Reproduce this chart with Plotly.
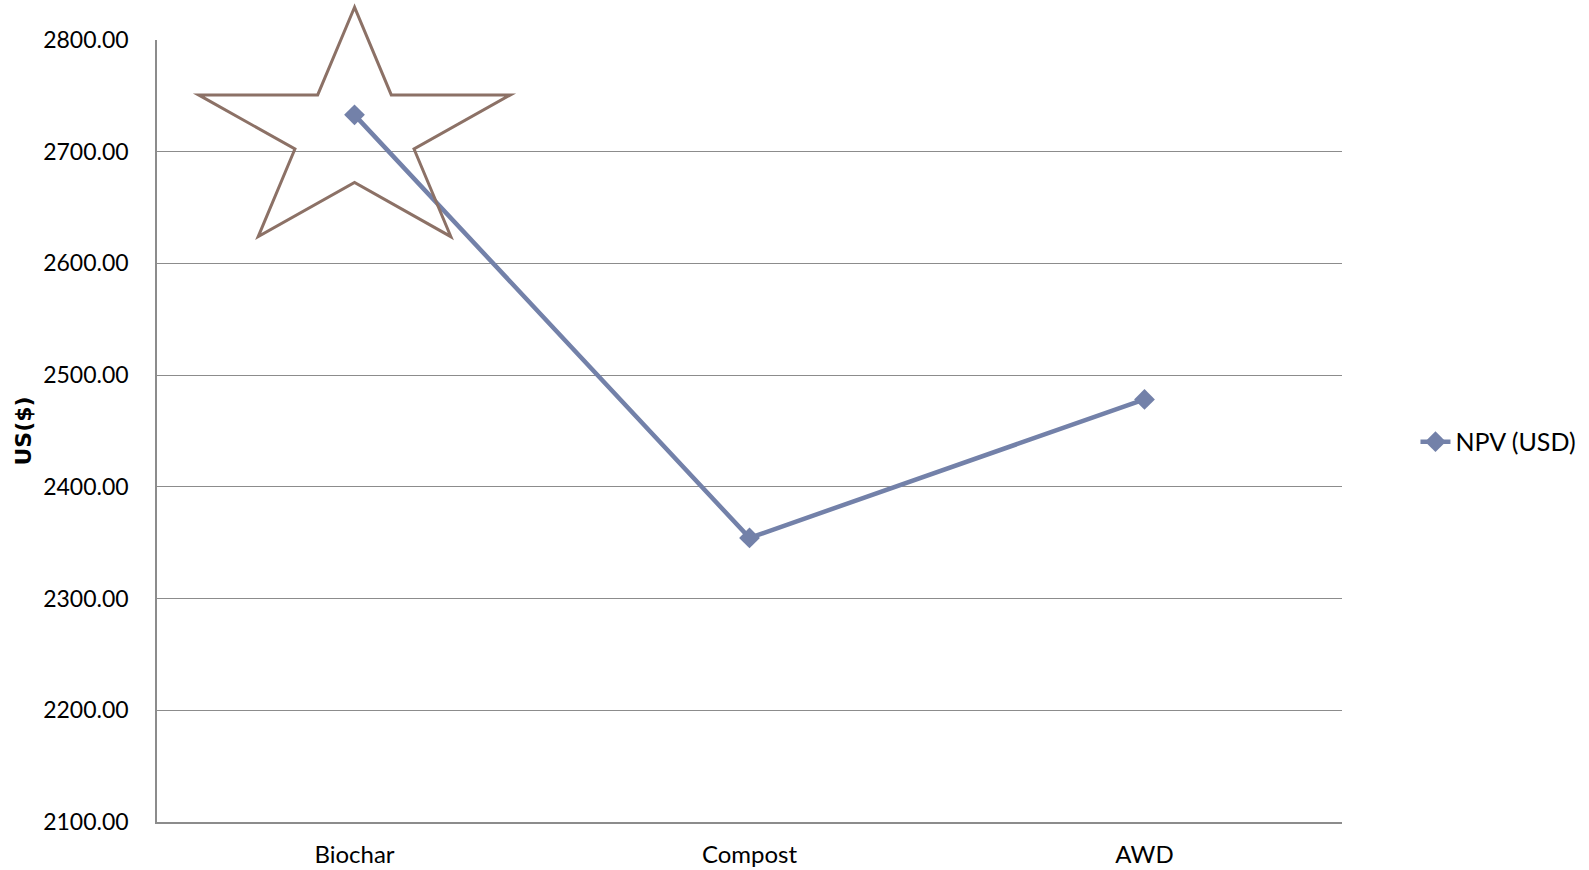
import numpy as np
import plotly.graph_objects as go

# NPV by treatment
categories = ["Biochar", "Compost", "AWD"]
npv_usd = [2733.0, 2354.3, 2478.3]
series_name = "NPV (USD)"

y_ticks = [2100, 2200, 2300, 2400, 2500, 2600, 2700, 2800]
y_tick_text = [f"{v:.2f}" for v in y_ticks]

x_pos = list(range(len(categories)))
X_RANGE = [-0.5, 2.5]
Y_RANGE = [2100, 2800]

LINE_COLOR = "#7381A9"
STAR_COLOR = "#8C7166"
GRID_COLOR = "#8C8C8C"
FONT = "Lato"


def to_paper(v, rng):
    return (v - rng[0]) / (rng[1] - rng[0])


def star_path(cx, cy, rx, ry, inner=0.382):
    """Closed SVG path of a five-pointed star, scaled separately on x and y."""
    pts = []
    for k in range(10):
        ang = np.pi / 2 + k * np.pi / 5
        r = 1.0 if k % 2 == 0 else inner
        pts.append((cx + rx * r * np.cos(ang), cy + ry * r * np.sin(ang)))
    return "M " + " L ".join(f"{x:.4f},{y:.4f}" for x, y in pts) + " Z"


fig = go.Figure()
fig.add_trace(go.Scatter(
    x=x_pos,
    y=npv_usd,
    mode="lines+markers",
    name=series_name,
    line=dict(color=LINE_COLOR, width=4.5),
    marker=dict(symbol="diamond", size=16, color=LINE_COLOR),
    cliponaxis=False,
))

# Highlight star around the best option (paper coords so it may overflow the plot top)
best = int(np.argmax(npv_usd))
star_cx = to_paper(x_pos[best], X_RANGE)
star_cy = to_paper(2715.8, Y_RANGE)
star_rx = 0.415 / (X_RANGE[1] - X_RANGE[0])
star_ry = 113.5 / (Y_RANGE[1] - Y_RANGE[0])
fig.add_shape(
    type="path",
    xref="paper", yref="paper",
    path=star_path(star_cx, star_cy, star_rx, star_ry),
    line=dict(color=STAR_COLOR, width=3),
    fillcolor="rgba(0,0,0,0)",
    layer="above",
)

fig.update_layout(
    width=1589,
    height=870,
    margin=dict(l=157, r=247, t=40, b=48, autoexpand=False),
    paper_bgcolor="white",
    plot_bgcolor="white",
    font=dict(family=FONT, size=23, color="black"),
    showlegend=True,
    legend=dict(
        x=1.062, y=0.486, xanchor="left", yanchor="middle",
        font=dict(family=FONT, size=25, color="black"),
        bgcolor="rgba(0,0,0,0)",
    ),
    xaxis=dict(
        range=X_RANGE,
        tickmode="array",
        tickvals=x_pos,
        ticktext=categories,
        showgrid=False,
        zeroline=False,
        showline=True,
        linecolor=GRID_COLOR,
        linewidth=1.5,
        ticks="",
        ticklabelstandoff=10,
        tickfont=dict(family=FONT, size=24),
        automargin=False,
    ),
    yaxis=dict(
        range=Y_RANGE,
        tickmode="array",
        tickvals=y_ticks,
        ticktext=y_tick_text,
        showgrid=True,
        gridcolor=GRID_COLOR,
        gridwidth=1.2,
        zeroline=False,
        showline=True,
        linecolor=GRID_COLOR,
        linewidth=1.5,
        ticks="",
        ticklabelstandoff=22,
        tickfont=dict(family=FONT, size=23),
        automargin=False,
        title=dict(text="<b>US($)</b>",
                   font=dict(family="DejaVu Sans", size=22),
                   standoff=5),
    ),
)

fig.write_html("out.html")
